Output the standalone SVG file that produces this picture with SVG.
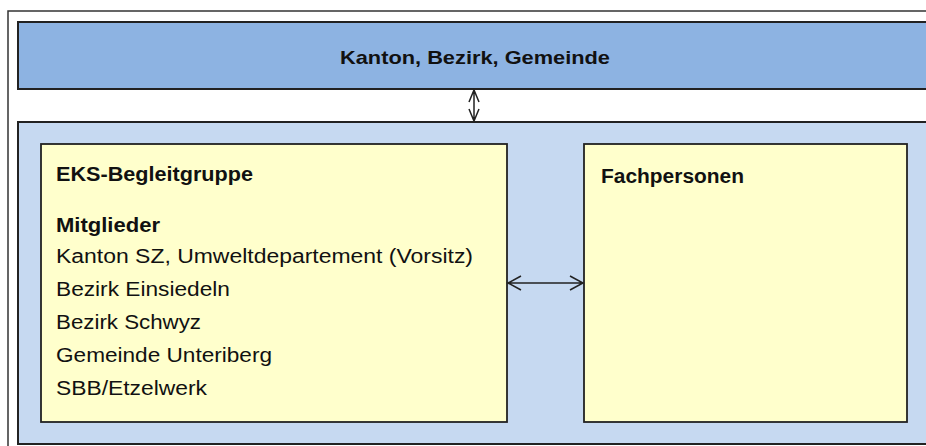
<svg xmlns="http://www.w3.org/2000/svg" width="926" height="446" viewBox="0 0 926 446">
<style>
.frame{fill:#fff;stroke:#333;stroke-width:1.5}
.top{fill:#8DB3E2;stroke:#222;stroke-width:2}
.pane{fill:#C6D9F1;stroke:#222;stroke-width:2}
.card{fill:#FFFFCC;stroke:#222;stroke-width:1.8}
.conn{fill:none;stroke:#222;stroke-width:1.5}
text{font-family:"Liberation Sans","DejaVu Sans",sans-serif;fill:#111}
.h{font-weight:bold;font-size:19px}
.b{font-weight:bold;font-size:20px}
.t{font-size:20px}
</style>
<rect class="frame" x="8" y="11" width="930" height="450"/>
<g id="kanton">
<rect class="top" x="18" y="22" width="920" height="67"/>
<text class="h" x="475" y="64" text-anchor="middle" textLength="270" lengthAdjust="spacingAndGlyphs">Kanton, Bezirk, Gemeinde</text>
</g>
<g id="bereich">
<rect class="pane" x="18" y="122" width="920" height="322"/>
</g>
<g id="begleitgruppe">
<rect class="card" x="41" y="144" width="466" height="278"/>
<text class="b" x="56" y="181" textLength="197" lengthAdjust="spacingAndGlyphs">EKS-Begleitgruppe</text>
<text class="b" x="56" y="232" textLength="104" lengthAdjust="spacingAndGlyphs">Mitglieder</text>
<text class="t" x="56" y="263" textLength="417" lengthAdjust="spacingAndGlyphs">Kanton SZ, Umweltdepartement (Vorsitz)</text>
<text class="t" x="56" y="296" textLength="174" lengthAdjust="spacingAndGlyphs">Bezirk Einsiedeln</text>
<text class="t" x="56" y="329" textLength="145" lengthAdjust="spacingAndGlyphs">Bezirk Schwyz</text>
<text class="t" x="56" y="362" textLength="216" lengthAdjust="spacingAndGlyphs">Gemeinde Unteriberg</text>
<text class="t" x="56" y="395" textLength="151" lengthAdjust="spacingAndGlyphs">SBB/Etzelwerk</text>
</g>
<g id="fachpersonen">
<rect class="card" x="584" y="144" width="323" height="278"/>
<text class="b" x="601" y="183" textLength="143" lengthAdjust="spacingAndGlyphs">Fachpersonen</text>
</g>
<g id="connectors">
<path class="conn" d="M474 90 V121 M469 102 L474 90 L479 102 M469 109 L474 121 L479 109"/>
<path class="conn" d="M508 283 H583 M521 276 L508 283 L521 290 M570 276 L583 283 L570 290"/>
</g>
</svg>
